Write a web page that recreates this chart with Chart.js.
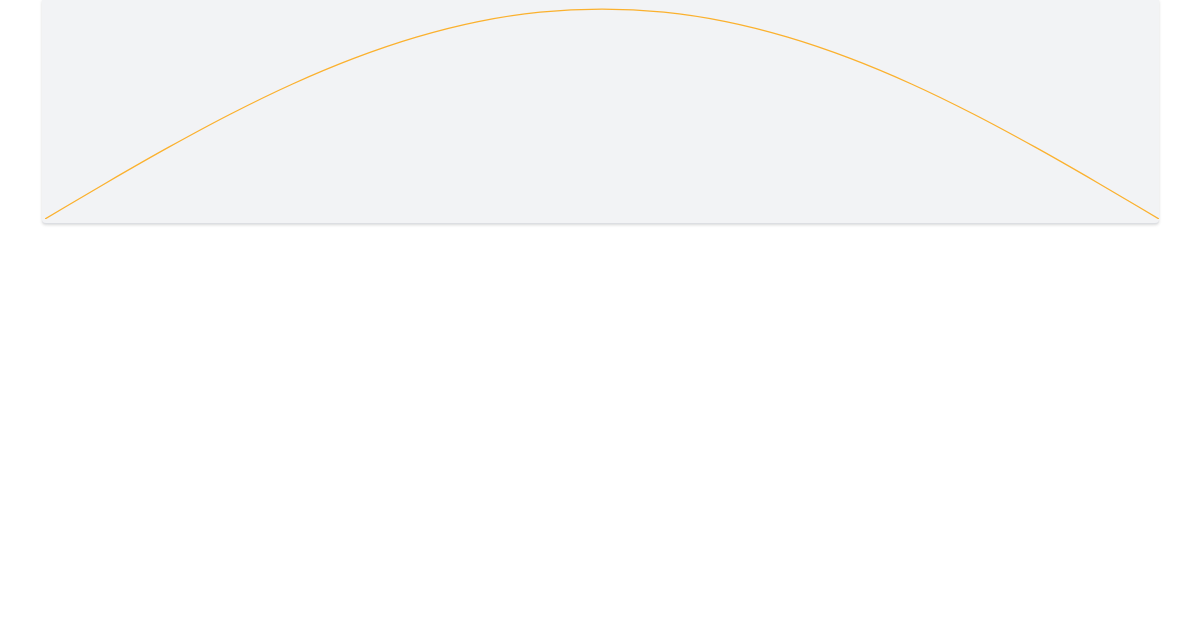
<!DOCTYPE html>
<html>
<head>
<meta charset="utf-8">
<script src="https://cdn.jsdelivr.net/npm/chart.js@4"></script>
<style>
  html, body { margin: 0; padding: 0; background: #ffffff; width: 1200px; height: 630px; overflow: hidden; }
  .card {
    position: absolute; left: 42px; top: 0; width: 1117px; height: 220px;
    background: #f2f3f5;
    border-bottom: 1px solid #dcdee2;
    padding-bottom: 3px;
    border-radius: 0 0 4px 4px;
    box-shadow: 0 1px 3px rgba(60, 64, 67, 0.2);
  }
  .wrap { position: absolute; left: 3px; top: 0; width: 1114px; height: 219px; }
</style>
</head>
<body>
<div class="card">
  <div class="wrap"><canvas id="curve"></canvas></div>
</div>
<script>
// sample positions along the x axis
const labels = ['0', '10', '20', '30', '40', '50', '60', '70', '80', '90',
                '100', '110', '120', '130', '140', '150', '160', '170', '180'];
// curve height (0 = baseline, 1 = peak)
const values = [0, 0.174, 0.342, 0.5, 0.643, 0.766, 0.866, 0.94, 0.985, 1,
                0.985, 0.94, 0.866, 0.766, 0.643, 0.5, 0.342, 0.174, 0];

const ctx = document.getElementById('curve').getContext('2d');

new Chart(ctx, {
    type: 'line',
    data: {
        labels: labels,
        datasets: [{
            data: values,
            borderColor: '#fbb12e',
            borderWidth: 1.3,
            pointRadius: 0,
            fill: false,
            cubicInterpolationMode: 'monotone'
        }]
    },
    options: {
        responsive: true,
        maintainAspectRatio: false,
        animation: false,
        layout: { padding: 0 },
        plugins: { legend: { display: false }, tooltip: { enabled: false } },
        scales: {
            x: { display: false, offset: false },
            y: { display: false, min: 0, max: 1.043 }
        }
    }
});
</script>
</body>
</html>
